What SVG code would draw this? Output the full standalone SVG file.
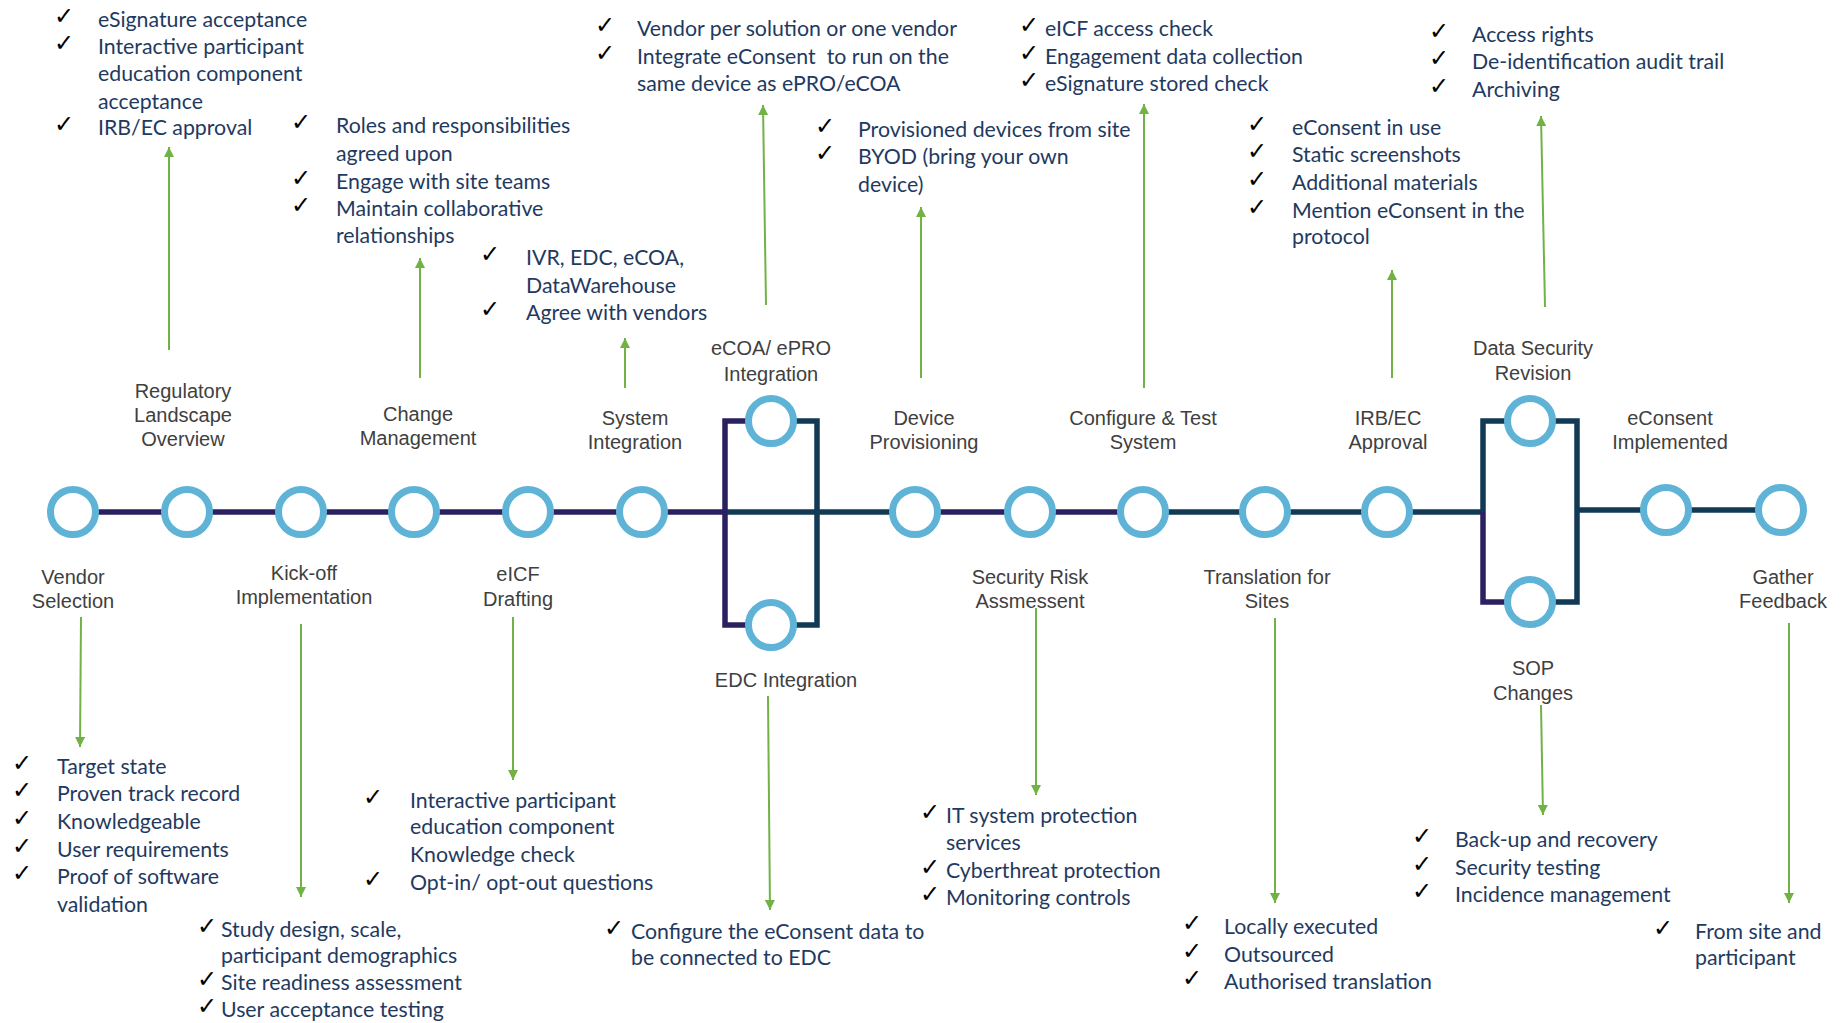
<svg xmlns="http://www.w3.org/2000/svg" width="1845" height="1023" viewBox="0 0 1845 1023">
<style>
.ring{fill:#fff;stroke:#5fb3d6;stroke-width:7}
.lbl{font-family:"Liberation Sans",Arial,sans-serif;font-size:20px;fill:#404040;text-anchor:middle}
.item{font-family:Lato,"Open Sans",sans-serif;font-size:21.3px;fill:#1f3a5f}
.chk{font-family:"DejaVu Sans",sans-serif;font-size:24px;font-weight:bold;fill:#000;text-anchor:middle}
.arr{stroke:#70b244;stroke-width:2;fill:none;marker-end:url(#ah)}
.tp{stroke:#2b2160;stroke-width:5.5;fill:none}
.tt{stroke:#123a55;stroke-width:5.5;fill:none}
</style>
<defs>
<marker id="ah" markerUnits="userSpaceOnUse" markerWidth="10" markerHeight="10" refX="10" refY="5" orient="auto">
<path d="M0,0 L10,5 L0,10 Z" fill="#70b244"/>
</marker>
</defs>
<rect width="1845" height="1023" fill="#fff"/>
<g id="track">
<line class="tp" x1="73" y1="512" x2="725" y2="512"/>
<line class="tt" x1="725" y1="512" x2="915" y2="512"/>
<line class="tp" x1="915" y1="512" x2="1143" y2="512"/>
<line class="tt" x1="1143" y1="512" x2="1483" y2="512"/>
<line class="tt" x1="1577" y1="510" x2="1780" y2="510"/>
<polyline class="tp" points="771,421 725,421 725,625 771,625"/>
<polyline class="tt" points="771,421 817,421 817,625 771,625"/>
<polyline class="tt" points="1530,421 1483,421 1483,512"/>
<polyline class="tp" points="1483,512 1483,602 1530,602"/>
<polyline class="tt" points="1530,421 1577,421 1577,602 1530,602"/>
</g>
<g id="connectors">
<line class="arr" x1="169" y1="350" x2="169" y2="147"/>
<line class="arr" x1="420" y1="378" x2="420" y2="258"/>
<line class="arr" x1="625" y1="388" x2="625" y2="338"/>
<line class="arr" x1="766" y1="305" x2="763" y2="105"/>
<line class="arr" x1="921" y1="378" x2="921" y2="207"/>
<line class="arr" x1="1144" y1="388" x2="1144" y2="104"/>
<line class="arr" x1="1392" y1="378" x2="1392" y2="270"/>
<line class="arr" x1="1545" y1="307" x2="1541" y2="116"/>
<line class="arr" x1="81" y1="617" x2="80" y2="747"/>
<line class="arr" x1="301" y1="624" x2="301" y2="897"/>
<line class="arr" x1="513" y1="617" x2="513" y2="780"/>
<line class="arr" x1="768" y1="696" x2="770" y2="910"/>
<line class="arr" x1="1036" y1="608" x2="1036" y2="795"/>
<line class="arr" x1="1275" y1="618" x2="1275" y2="903"/>
<line class="arr" x1="1541" y1="705" x2="1543" y2="815"/>
<line class="arr" x1="1789" y1="623" x2="1789" y2="903"/>
</g>
<g id="vendor-selection">
<circle class="ring" cx="73" cy="512" r="22.5"/>
<text class="lbl" x="73" y="584">Vendor</text><text class="lbl" x="73" y="608">Selection</text>
<text class="chk" x="22" y="771">✓</text><text class="item" x="57" y="774">Target state</text>
<text class="chk" x="22" y="798">✓</text><text class="item" x="57" y="801">Proven track record</text>
<text class="chk" x="22" y="826">✓</text><text class="item" x="57" y="829">Knowledgeable</text>
<text class="chk" x="22" y="854">✓</text><text class="item" x="57" y="857">User requirements</text>
<text class="chk" x="22" y="881">✓</text><text class="item" x="57" y="884">Proof of software</text>
<text class="item" x="57" y="912">validation</text>
</g>
<g id="regulatory-landscape">
<circle class="ring" cx="187" cy="512" r="22.5"/>
<text class="lbl" x="183" y="398">Regulatory</text><text class="lbl" x="183" y="422">Landscape</text><text class="lbl" x="183" y="446">Overview</text>
<text class="chk" x="64" y="24">✓</text><text class="item" x="98" y="27">eSignature acceptance</text>
<text class="chk" x="64" y="51">✓</text><text class="item" x="98" y="54">Interactive participant</text>
<text class="item" x="98" y="81">education component</text>
<text class="item" x="98" y="109">acceptance</text>
<text class="chk" x="64" y="132">✓</text><text class="item" x="98" y="135">IRB/EC approval</text>
</g>
<g id="kick-off">
<circle class="ring" cx="301" cy="512" r="22.5"/>
<text class="lbl" x="304" y="580">Kick-off</text><text class="lbl" x="304" y="604">Implementation</text>
<text class="chk" x="207" y="934">✓</text><text class="item" x="221" y="937">Study design, scale,</text>
<text class="item" x="221" y="963">participant demographics</text>
<text class="chk" x="207" y="987">✓</text><text class="item" x="221" y="990">Site readiness assessment</text>
<text class="chk" x="207" y="1014">✓</text><text class="item" x="221" y="1017">User acceptance testing</text>
</g>
<g id="change-management">
<circle class="ring" cx="414" cy="512" r="22.5"/>
<text class="lbl" x="418" y="421">Change</text><text class="lbl" x="418" y="445">Management</text>
<text class="chk" x="301" y="130">✓</text><text class="item" x="336" y="133">Roles and responsibilities</text>
<text class="item" x="336" y="161">agreed upon</text>
<text class="chk" x="301" y="186">✓</text><text class="item" x="336" y="189">Engage with site teams</text>
<text class="chk" x="301" y="213">✓</text><text class="item" x="336" y="216">Maintain collaborative</text>
<text class="item" x="336" y="243">relationships</text>
</g>
<g id="eicf-drafting">
<circle class="ring" cx="528" cy="512" r="22.5"/>
<text class="lbl" x="518" y="581">eICF</text><text class="lbl" x="518" y="606">Drafting</text>
<text class="chk" x="373" y="805">✓</text><text class="item" x="410" y="808">Interactive participant</text>
<text class="item" x="410" y="834">education component</text>
<text class="item" x="410" y="862">Knowledge check</text>
<text class="chk" x="373" y="887">✓</text><text class="item" x="410" y="890">Opt-in/ opt-out questions</text>
</g>
<g id="system-integration">
<circle class="ring" cx="642" cy="512" r="22.5"/>
<text class="lbl" x="635" y="425">System</text><text class="lbl" x="635" y="449">Integration</text>
<text class="chk" x="490" y="262">✓</text><text class="item" x="526" y="265">IVR, EDC, eCOA,</text>
<text class="item" x="526" y="293">DataWarehouse</text>
<text class="chk" x="490" y="317">✓</text><text class="item" x="526" y="320">Agree with vendors</text>
</g>
<g id="ecoa-epro-integration">
<circle class="ring" cx="771" cy="421" r="22.5"/>
<text class="lbl" x="771" y="355">eCOA/ ePRO</text><text class="lbl" x="771" y="381">Integration</text>
<text class="chk" x="605" y="33">✓</text><text class="item" x="637" y="36">Vendor per solution or one vendor</text>
<text class="chk" x="605" y="61">✓</text><text class="item" x="637" y="64">Integrate eConsent&#160; to run on the</text>
<text class="item" x="637" y="91">same device as ePRO/eCOA</text>
</g>
<g id="edc-integration">
<circle class="ring" cx="771" cy="625" r="22.5"/>
<text class="lbl" x="786" y="687">EDC Integration</text>
<text class="chk" x="614" y="936">✓</text><text class="item" x="631" y="939">Configure the eConsent data to</text>
<text class="item" x="631" y="965">be connected to EDC</text>
</g>
<g id="device-provisioning">
<circle class="ring" cx="915" cy="512" r="22.5"/>
<text class="lbl" x="924" y="425">Device</text><text class="lbl" x="924" y="449">Provisioning</text>
<text class="chk" x="825" y="134">✓</text><text class="item" x="858" y="137">Provisioned devices from site</text>
<text class="chk" x="825" y="161">✓</text><text class="item" x="858" y="164">BYOD (bring your own</text>
<text class="item" x="858" y="192">device)</text>
</g>
<g id="security-risk-assessment">
<circle class="ring" cx="1030" cy="512" r="22.5"/>
<text class="lbl" x="1030" y="584">Security Risk</text><text class="lbl" x="1030" y="608">Assmessent</text>
<text class="chk" x="930" y="820">✓</text><text class="item" x="946" y="823">IT system protection</text>
<text class="item" x="946" y="850">services</text>
<text class="chk" x="930" y="875">✓</text><text class="item" x="946" y="878">Cyberthreat protection</text>
<text class="chk" x="930" y="902">✓</text><text class="item" x="946" y="905">Monitoring controls</text>
</g>
<g id="configure-test-system">
<circle class="ring" cx="1143" cy="512" r="22.5"/>
<text class="lbl" x="1143" y="425">Configure &amp; Test</text><text class="lbl" x="1143" y="449">System</text>
<text class="chk" x="1029" y="33">✓</text><text class="item" x="1045" y="36">eICF access check</text>
<text class="chk" x="1029" y="61">✓</text><text class="item" x="1045" y="64">Engagement data collection</text>
<text class="chk" x="1029" y="88">✓</text><text class="item" x="1045" y="91">eSignature stored check</text>
</g>
<g id="translation-for-sites">
<circle class="ring" cx="1265" cy="512" r="22.5"/>
<text class="lbl" x="1267" y="584">Translation for</text><text class="lbl" x="1267" y="608">Sites</text>
<text class="chk" x="1192" y="931">✓</text><text class="item" x="1224" y="934">Locally executed</text>
<text class="chk" x="1192" y="959">✓</text><text class="item" x="1224" y="962">Outsourced</text>
<text class="chk" x="1192" y="986">✓</text><text class="item" x="1224" y="989">Authorised translation</text>
</g>
<g id="irb-ec-approval">
<circle class="ring" cx="1387" cy="512" r="22.5"/>
<text class="lbl" x="1388" y="425">IRB/EC</text><text class="lbl" x="1388" y="449">Approval</text>
<text class="chk" x="1257" y="132">✓</text><text class="item" x="1292" y="135">eConsent in use</text>
<text class="chk" x="1257" y="159">✓</text><text class="item" x="1292" y="162">Static screenshots</text>
<text class="chk" x="1257" y="187">✓</text><text class="item" x="1292" y="190">Additional materials</text>
<text class="chk" x="1257" y="215">✓</text><text class="item" x="1292" y="218">Mention eConsent in the</text>
<text class="item" x="1292" y="244">protocol</text>
</g>
<g id="data-security-revision">
<circle class="ring" cx="1530" cy="421" r="22.5"/>
<text class="lbl" x="1533" y="355">Data Security</text><text class="lbl" x="1533" y="380">Revision</text>
<text class="chk" x="1439" y="39">✓</text><text class="item" x="1472" y="42">Access rights</text>
<text class="chk" x="1439" y="66">✓</text><text class="item" x="1472" y="69">De-identification audit trail</text>
<text class="chk" x="1439" y="94">✓</text><text class="item" x="1472" y="97">Archiving</text>
</g>
<g id="sop-changes">
<circle class="ring" cx="1530" cy="602" r="22.5"/>
<text class="lbl" x="1533" y="675">SOP</text><text class="lbl" x="1533" y="700">Changes</text>
<text class="chk" x="1422" y="844">✓</text><text class="item" x="1455" y="847">Back-up and recovery</text>
<text class="chk" x="1422" y="872">✓</text><text class="item" x="1455" y="875">Security testing</text>
<text class="chk" x="1422" y="899">✓</text><text class="item" x="1455" y="902">Incidence management</text>
</g>
<g id="econsent-implemented">
<circle class="ring" cx="1666" cy="510" r="22.5"/>
<text class="lbl" x="1670" y="425">eConsent</text><text class="lbl" x="1670" y="449">Implemented</text>
</g>
<g id="gather-feedback">
<circle class="ring" cx="1781" cy="510" r="22.5"/>
<text class="lbl" x="1783" y="584">Gather</text><text class="lbl" x="1783" y="608">Feedback</text>
<text class="chk" x="1663" y="936">✓</text><text class="item" x="1695" y="939">From site and</text>
<text class="item" x="1695" y="965">participant</text>
</g>
</svg>
